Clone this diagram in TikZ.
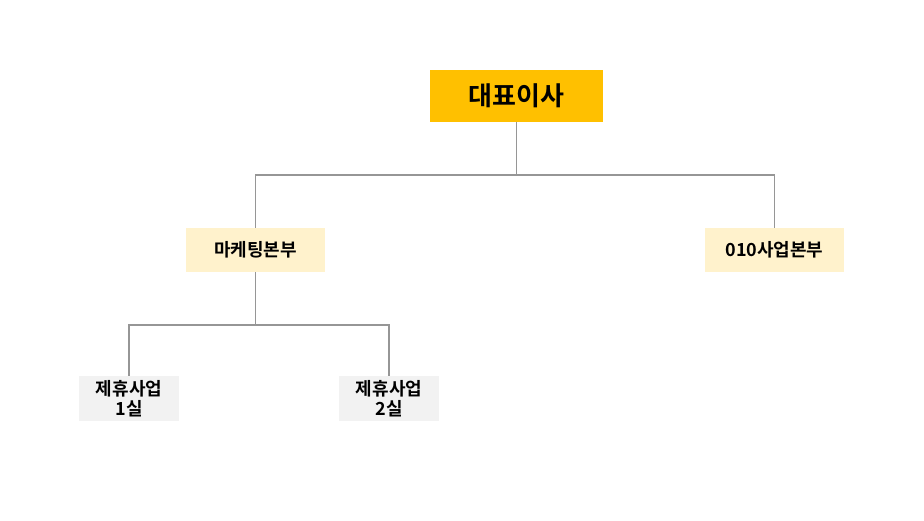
\documentclass[tikz,border=0pt]{standalone}
\usepackage{fontspec}
\setmainfont{Noto Sans CJK KR}[BoldFont={Noto Sans CJK KR Bold}]
\definecolor{topc}{HTML}{FFC000}
\definecolor{midc}{HTML}{FFF2CC}
\definecolor{lowc}{HTML}{F2F2F2}
\definecolor{linec}{HTML}{969696}
\tikzset{
  topbox/.style={fill=topc, minimum width=173pt, minimum height=52pt, inner sep=0pt, font=\fontsize{26}{29}\selectfont\bfseries},
  midbox/.style={fill=midc, minimum width=139pt, minimum height=44pt, inner sep=0pt, font=\fontsize{18}{21}\selectfont\bfseries},
  lowbox/.style={fill=lowc, minimum width=100pt, minimum height=45pt, inner sep=0pt, align=center, font=\fontsize{18}{20}\selectfont\bfseries},
  conn/.style={draw=linec, line width=1.1pt}
}
\begin{document}
\begin{tikzpicture}[x=1pt,y=-1pt]
\useasboundingbox (0,0) rectangle (924,521);
\node[topbox] (ceo) at (516.5,96) {대표이사};
\node[midbox] (mkt) at (255.5,250) {마케팅본부};
\node[midbox] (biz) at (774.5,250) {010사업본부};
\node[lowbox] (p1) at (129,398.5) {제휴사업\\1실};
\node[lowbox] (p2) at (389,398.5) {제휴사업\\2실};
\coordinate (j1) at (516.5,175);
\coordinate (j2) at (255.5,325);
\draw[conn] (ceo.south) -- (j1) -| (mkt.north);
\draw[conn] (j1) -| (biz.north);
\draw[conn] (mkt.south) -- (j2) -| (p1.north);
\draw[conn] (j2) -| (p2.north);
\end{tikzpicture}
\end{document}
